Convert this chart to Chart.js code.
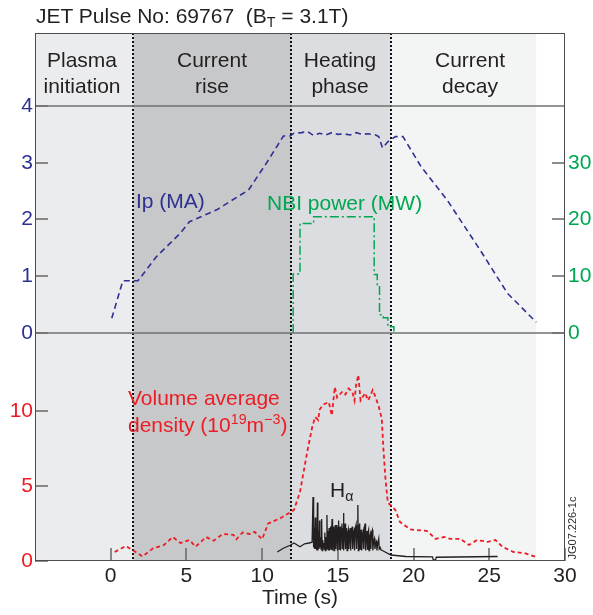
<!DOCTYPE html>
<html><head><meta charset="utf-8">
<script src="https://cdn.jsdelivr.net/npm/chart.js@4"></script>
<style>
html,body{margin:0;padding:0;background:#fff;}
#wrap{position:relative;width:593px;height:615px;font-family:"Liberation Sans",Arial,Helvetica,sans-serif;overflow:hidden;}
canvas{position:absolute;left:0;top:0;}
.t{position:absolute;white-space:pre;line-height:24px;font-size:21px;}
.ph{position:absolute;width:150px;text-align:center;font-size:21px;line-height:26px;color:#231f20;}
sub,sup{font-size:0.68em;line-height:0;}
sub{vertical-align:-0.3em;}
sup{vertical-align:0.55em;}
</style></head><body>
<div id="wrap">
<canvas id="c" width="593" height="615"></canvas>
<div class="t" style="left:36px;top:4px;color:#231f20">JET Pulse No: 69767  (B<sub>T</sub> = 3.1T)</div>
<div class="ph" style="left:7px;top:47px">Plasma<br>initiation</div>
<div class="ph" style="left:137px;top:47px">Current<br>rise</div>
<div class="ph" style="left:265px;top:47px">Heating<br>phase</div>
<div class="ph" style="left:395px;top:47px">Current<br>decay</div>
<div class="t" style="left:136px;top:189px;color:#2e3192">Ip (MA)</div>
<div class="t" style="left:267px;top:191px;color:#00a651">NBI power (MW)</div>
<div class="t" style="left:128px;top:384px;line-height:27px;color:#ed1c24">Volume average
density (10<sup>19</sup>m<sup>−3</sup>)</div>
<div class="t" style="left:330px;top:478px;color:#231f20">H<sub>α</sub></div>
<div class="t" style="left:537px;top:521px;width:70px;font-size:11px;line-height:14px;color:#231f20;transform:rotate(-90deg);transform-origin:50% 50%;text-align:center">JG07.226-1c</div>
</div>
<script>
// ---- data ----
const ipTime = [0.07,0.8,1.8,3.0,4.6,5.2,7.0,9.1,10.3,11.4,11.85,12.1,12.6,13.0,13.4,13.8,14.2,14.6,15.0,15.4,15.8,16.2,16.6,17.0,17.5,17.7,17.95,18.3,18.8,19.3,20.5,22.2,24.4,26.2,28.1];
const ipMA   = [0.26,0.92,0.92,1.34,1.76,1.96,2.17,2.52,3.0,3.47,3.47,3.52,3.53,3.55,3.48,3.52,3.49,3.53,3.50,3.51,3.49,3.53,3.50,3.51,3.49,3.46,3.26,3.37,3.46,3.46,2.93,2.35,1.46,0.70,0.19];

const nbiTime = [12.05,12.05,12.5,13.4,17.4,17.6,17.75,18.0,18.3,18.7];
const nbiMW   = [0,10.4,19.3,20.5,10.3,8.3,3.2,2.7,1.1,0];

const denTime = [0.26,1.0,1.5,2.1,2.8,3.5,4.1,4.6,5.2,5.6,6.3,6.8,7.4,8.1,8.3,8.7,9.2,9.5,10.0,10.4,11.2,11.85,12.1,12.5,13.0,13.3,13.5,13.7,13.8,14.0,14.4,14.6,14.8,14.95,15.3,15.5,15.7,15.95,16.1,16.2,16.35,16.5,16.8,17.0,17.3,17.5,17.7,17.9,18.0,18.15,18.3,18.5,18.8,19.1,19.8,20.9,21.45,22.0,22.45,23.1,23.65,24.2,24.9,25.4,25.9,26.6,27.3,28.1];
const density = [0.6,1.0,0.7,0.3,0.85,1.05,1.6,1.2,1.4,0.95,1.6,1.35,1.8,1.75,1.45,1.9,1.8,1.95,1.45,2.5,2.85,3.25,3.4,4.6,7.4,8.9,9.6,9.4,10.1,10.4,10.6,9.7,11.6,10.9,11.3,11.1,11.5,11.3,10.7,11.7,12.4,10.7,11.2,10.7,11.4,10.9,10.3,9.5,7.6,5.4,3.9,3.7,3.4,2.6,2.1,2.0,1.47,1.6,1.47,1.47,1.07,1.4,1.27,1.4,0.93,0.6,0.53,0.27];

const haTime = [11.0,11.4,11.85,12.1,12.5,12.8,13.1,
  13.30,13.36,13.40,13.44,13.47,13.51,13.54,13.58,13.61,13.65,13.68,13.72,13.75,13.79,13.82,13.86,13.89,13.93,13.96,14.00,14.03,14.07,14.10,14.14,14.17,14.21,14.24,14.28,14.31,14.35,14.38,14.42,14.45,14.49,14.52,14.55,14.59,14.62,14.65,14.69,14.72,14.75,14.79,14.83,14.86,14.90,14.94,14.97,15.01,15.05,15.08,15.12,15.15,15.18,15.22,15.27,15.30,15.34,15.37,15.40,15.44,15.48,15.51,15.55,15.58,15.61,15.65,15.70,15.73,15.77,15.82,15.85,15.89,15.95,15.98,16.02,16.07,16.10,16.14,16.20,16.23,16.27,16.32,16.35,16.39,16.44,16.47,16.51,16.55,16.58,16.62,16.68,16.71,16.75,16.80,16.83,16.87,16.92,16.95,16.99,17.03,17.06,17.10,17.15,17.18,17.22,17.28,17.31,17.36,17.42,17.45,17.50,17.55,17.58,17.64,17.70,17.73,17.80,17.85,
  18.0,18.5,19.5,21.25,21.3,21.45,21.5,25.55];
const halpha = [0.6,0.85,1.05,1.2,0.95,1.15,1.2,
  1.25,4.27,0.9,2.2,0.8,2.9,0.8,1.8,0.7,3.9,0.7,2.0,0.8,2.7,0.9,1.6,0.8,2.8,0.7,1.4,0.9,1.2,0.8,1.9,0.7,1.6,0.8,3.07,0.8,2.0,0.7,2.2,0.7,1.8,2.3,0.8,2.1,2.8,0.7,2.0,2.3,0.7,1.9,2.4,0.8,2.1,2.4,0.7,2.2,2.7,0.8,1.9,2.3,0.7,2.0,2.5,0.8,2.2,3.2,0.7,2.1,2.5,0.8,1.9,2.2,0.7,1.8,2.07,0.8,1.7,2.2,0.7,1.9,2.3,0.8,1.8,2.0,0.7,2.1,2.4,0.8,1.9,3.73,0.7,2.0,2.5,0.8,1.8,2.1,0.7,1.6,1.93,0.8,2.2,2.5,0.7,1.7,2.0,0.8,1.9,2.07,0.7,1.6,1.8,0.8,1.9,2.07,0.7,1.3,1.5,0.8,1.2,1.3,0.7,1.2,1.5,0.8,0.9,0.75,
  0.67,0.4,0.3,0.27,0.07,0.07,0.25,0.3];

const xTicks = [0,5,10,15,20,25,30];
const ipTicks = [0,1,2,3,4];
const nbiTicks = [0,10,20,30];
const denTicks = [0,5,10];
const phaseEdges = [-5,1.5,11.9,18.5,28.1];

// ---- styles ----
const phaseColors = ['#ebeced','#c7c8ca','#dcdde0','#f3f5f5'];
const BLUE='#2e3192', GREEN='#00a651', RED='#ed1c24', INK='#231f20';
const tickFont = {family:"'Liberation Sans', Arial, sans-serif", size:21};
const pts = (xs, ys) => xs.map((t,i) => ({x:t, y:ys[i]}));
const setTicks = arr => s => { s.ticks = arr.map(v => ({value:v})); };
const noGrid = {display:false, drawTicks:false};

const panelPlugin = {
  id:'panels',
  beforeDatasetsDraw(chart){
    const {ctx, chartArea:a, scales} = chart;
    const x = scales.x;
    ctx.save();
    for (let i=0;i<phaseColors.length;i++){
      const x0 = x.getPixelForValue(phaseEdges[i]), x1 = x.getPixelForValue(phaseEdges[i+1]);
      ctx.fillStyle = phaseColors[i];
      ctx.fillRect(x0, a.top, x1-x0, a.bottom-a.top);
    }
    ctx.strokeStyle = '#666'; ctx.lineWidth = 1.5;
    const tl = 13;
    const hTick = (scale, fromLeft) => scale.ticks.forEach(t => {
      const py = Math.round(scale.getPixelForValue(t.value));
      ctx.beginPath();
      if (fromLeft){ ctx.moveTo(a.left, py); ctx.lineTo(a.left+tl, py); }
      else { ctx.moveTo(a.right, py); ctx.lineTo(a.right-tl, py); }
      ctx.stroke();
    });
    hTick(scales.yIp, true); hTick(scales.yDen, true); hTick(scales.yNBI, false);
    x.ticks.forEach(t => {
      const px = Math.round(x.getPixelForValue(t.value));
      ctx.beginPath(); ctx.moveTo(px, a.bottom); ctx.lineTo(px, a.bottom-tl); ctx.stroke();
    });
    ctx.strokeStyle = '#111'; ctx.lineWidth = 2; ctx.setLineDash([2,2]);
    phaseEdges.slice(1,4).forEach(t => {
      const px = Math.round(x.getPixelForValue(t));
      ctx.beginPath(); ctx.moveTo(px, a.top); ctx.lineTo(px, a.bottom); ctx.stroke();
    });
    ctx.restore();
  },
  afterDatasetsDraw(chart){
    const {ctx, chartArea:a, scales} = chart;
    ctx.save();
    ctx.strokeStyle = '#707070'; ctx.lineWidth = 1.5;
    [4,0].forEach(v => {
      const py = Math.round(scales.yIp.getPixelForValue(v));
      ctx.beginPath(); ctx.moveTo(a.left, py); ctx.lineTo(a.right, py); ctx.stroke();
    });
    ctx.strokeStyle = '#4d4d4d'; ctx.lineWidth = 1;
    ctx.strokeRect(Math.round(a.left)+0.5, Math.round(a.top)+0.5, Math.round(a.right-a.left)-1, Math.round(a.bottom-a.top)-1);
    ctx.restore();
  }
};

new Chart(document.getElementById('c'), {
  type:'line',
  data:{datasets:[
    {label:'Ip (MA)', data:pts(ipTime, ipMA), yAxisID:'yIp', borderColor:BLUE, borderWidth:1.6, borderDash:[6,4], pointRadius:0, fill:false},
    {label:'NBI power (MW)', data:pts(nbiTime, nbiMW), yAxisID:'yNBI', borderColor:GREEN, borderWidth:1.5, borderDash:[9,3,2,3], stepped:'before', pointRadius:0, fill:false},
    {label:'Hα', data:pts(haTime, halpha), yAxisID:'yDen', borderColor:INK, borderWidth:1.3, pointRadius:0, fill:false},
    {label:'Volume average density', data:pts(denTime, density), yAxisID:'yDen', borderColor:RED, borderWidth:1.8, borderDash:[4,3], pointRadius:0, fill:false}
  ]},
  options:{
    responsive:false, animation:false, devicePixelRatio:1,
    layout:{padding:{top:33,left:0,right:0,bottom:0}},
    plugins:{legend:{display:false}, tooltip:{enabled:false}},
    scales:{
      x:{type:'linear', min:-5, max:30, afterBuildTicks:setTicks(xTicks),
         ticks:{font:tickFont, color:INK, padding:3, autoSkip:false, maxRotation:0},
         grid:noGrid, border:{display:false},
         title:{display:true, text:'Time (s)', font:tickFont, color:INK, padding:{top:0,bottom:4}},
         afterFit:s=>{s.height=54;}},
      yDen:{type:'linear', position:'left', stack:'L', stackWeight:228, min:0, max:15.2, display:true,
         afterBuildTicks:setTicks(denTicks),
         ticks:{font:tickFont, color:RED, padding:2, autoSkip:false},
         grid:noGrid, border:{display:false}, afterFit:s=>{s.width=35;}},
      yIp:{type:'linear', position:'left', stack:'L', stackWeight:300, min:0, max:5.286, display:true,
         afterBuildTicks:setTicks(ipTicks),
         ticks:{font:tickFont, color:BLUE, padding:2, autoSkip:false},
         grid:noGrid, border:{display:false}, afterFit:s=>{s.width=35;}},
      yNBI:{type:'linear', position:'right', stack:'R', stackWeight:300, min:0, max:52.86, display:true,
         afterBuildTicks:setTicks(nbiTicks),
         ticks:{font:tickFont, color:GREEN, padding:3, autoSkip:false},
         grid:noGrid, border:{display:false}, afterFit:s=>{s.width=28;}},
      yPad:{type:'linear', position:'right', stack:'R', stackWeight:228, min:0, max:1, display:true,
         ticks:{display:false}, grid:noGrid, border:{display:false}, afterFit:s=>{s.width=28;}}
    }
  },
  plugins:[panelPlugin]
});
</script>
</body></html>
